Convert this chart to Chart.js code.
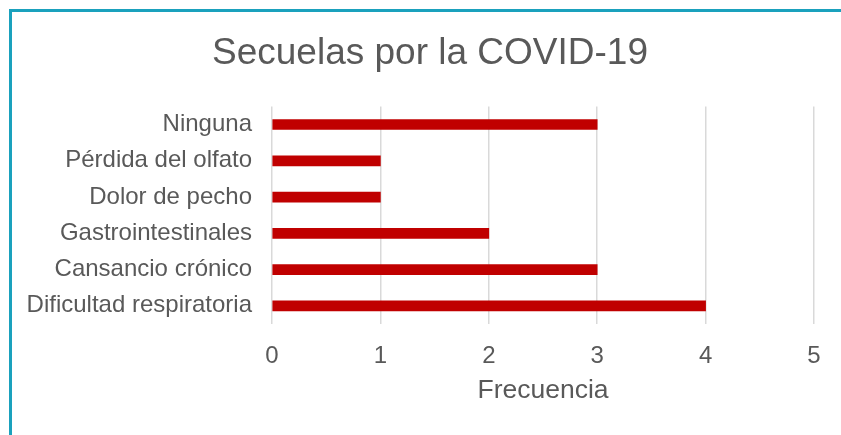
<!DOCTYPE html>
<html>
<head>
<meta charset="utf-8">
<script src="https://cdn.jsdelivr.net/npm/chart.js@4"></script>
<style>
  html, body { margin: 0; padding: 0; background: #fff; overflow: hidden; }
  #wrap { position: relative; width: 841px; height: 435px; }
  #frame {
    position: absolute; left: 9px; top: 9px; width: 900px; height: 500px;
    border-top: 3px solid #1aa1bd; border-left: 3px solid #1aa1bd;
  }
  #chart { position: absolute; left: 0; top: 0; }
</style>
</head>
<body>
<div id="wrap">
  <div id="frame"></div>
  <canvas id="chart" width="841" height="435"></canvas>
</div>
<script>
// Secuelas por la COVID-19 — horizontal bars, frecuencia por secuela
const categories = [
  "Ninguna",
  "Pérdida del olfato",
  "Dolor de pecho",
  "Gastrointestinales",
  "Cansancio crónico",
  "Dificultad respiratoria"
];
const frecuencia = [3, 1, 1, 2, 3, 4];
const xTicks = [0, 1, 2, 3, 4, 5];

const textColor = "#595959";
const gridColor = "#d9d9d9";
const barRed = "#c00000";
const fontFamily = "'Liberation Sans', Arial, sans-serif";

new Chart(document.getElementById("chart"), {
  type: "bar",
  data: {
    labels: categories,
    datasets: [{
      data: frecuencia,
      backgroundColor: barRed,
      borderWidth: 0,
      barThickness: 10
    }]
  },
  options: {
    indexAxis: "y",
    responsive: false,
    animation: false,
    // left padding shifts the title centre to the framed area
    layout: { padding: { left: 19, right: 0, top: 0, bottom: 0 } },
    plugins: {
      legend: { display: false },
      tooltip: { enabled: false },
      title: {
        display: true,
        text: "Secuelas por la COVID-19",
        color: textColor,
        font: { family: fontFamily, size: 37, weight: "normal" },
        padding: { top: 32, bottom: 30 }
      }
    },
    scales: {
      x: {
        min: xTicks[0],
        max: xTicks[xTicks.length - 1],
        afterBuildTicks: (scale) => { scale.ticks = xTicks.map((v) => ({ value: v })); },
        afterFit: (scale) => { scale.height = 111; },
        border: { display: false },
        grid: { color: gridColor, lineWidth: 1.5, drawTicks: false },
        ticks: {
          color: textColor,
          padding: 18,
          font: { family: fontFamily, size: 24 }
        },
        title: {
          display: true,
          text: "Frecuencia",
          color: textColor,
          font: { family: fontFamily, size: 26.5 },
          padding: { top: 0, bottom: 28 }
        }
      },
      y: {
        afterFit: (scale) => { scale.width = 253; },
        border: { display: false },
        grid: { display: false, drawTicks: false },
        ticks: {
          color: textColor,
          padding: 20,
          font: { family: fontFamily, size: 24 }
        }
      },
      // empty right-hand spacer so the plot ends at x = 814
      spacer: {
        type: "linear",
        axis: "y",
        position: "right",
        afterFit: (scale) => { scale.width = 27; },
        border: { display: false },
        grid: { display: false, drawTicks: false },
        ticks: { display: false }
      }
    }
  }
});
</script>
</body>
</html>
